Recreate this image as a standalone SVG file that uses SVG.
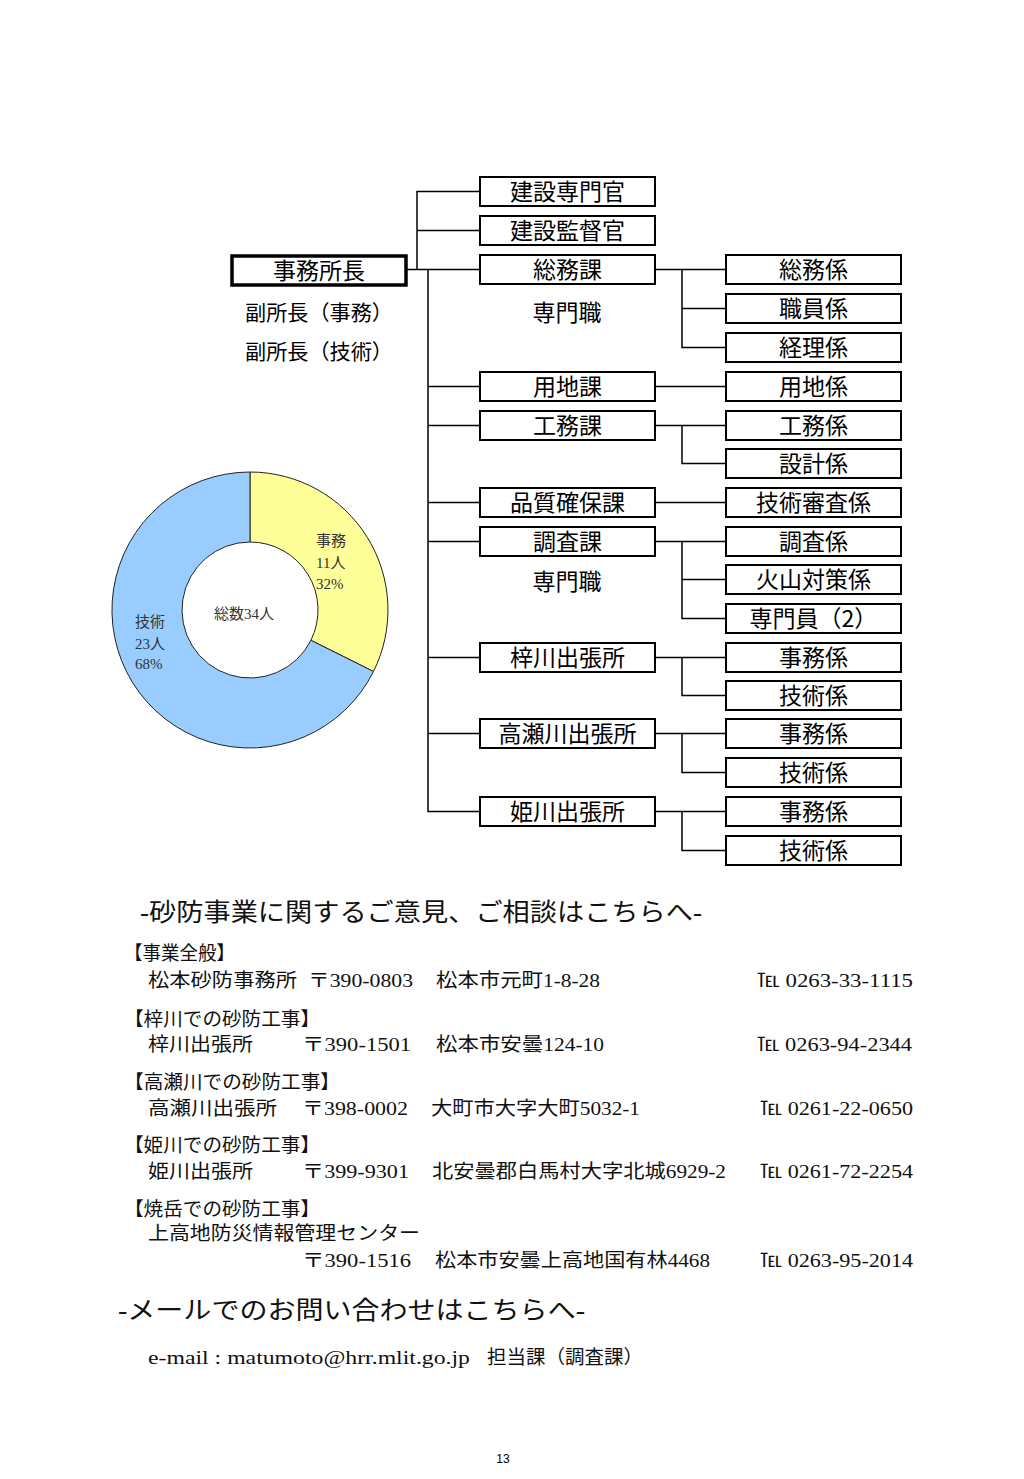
<svg xmlns="http://www.w3.org/2000/svg" width="1024" height="1479" viewBox="0 0 1024 1479">
<style>
.box{fill:#fff;stroke:#000;stroke-width:2}
.boss{fill:#fff;stroke:#000;stroke-width:3.5}
.lbl{font-family:"Noto Sans CJK JP","Noto Sans",sans-serif;font-size:23px;fill:#000;text-anchor:middle}
.sub{font-family:"Noto Sans CJK JP","Noto Sans",sans-serif;font-size:21px;fill:#000}
.con{fill:none;stroke:#000;stroke-width:1.5}
.pie{stroke:#222;stroke-width:1}
.pl{font-family:"Liberation Serif","Noto Sans CJK JP",serif;font-size:15px;fill:#333}
.tx{font-family:"Liberation Serif","Noto Sans CJK JP",serif;font-size:19px;fill:#111;dominant-baseline:central}
.hd{font-family:"Liberation Serif","Noto Sans CJK JP",serif;font-size:25px;fill:#111;dominant-baseline:central}
</style>
<rect width="1024" height="1479" fill="#fff"/>

<g id="connectors">
<path class="con" d="M406 269.5H480M417 269.5V191.5H480M417 230.5H480"/>
<path class="con" d="M428 269.5V811.5H480M428 386.5H480M428 425.5H480M428 502.5H480M428 541.5H480M428 657.5H480M428 733.5H480"/>
<path class="con" d="M655 269.5H726M682 269.5V347.5H726M682 308.5H726"/>
<path class="con" d="M655 386.5H726"/>
<path class="con" d="M655 425.5H726M682 425.5V463.5H726"/>
<path class="con" d="M655 502.5H726"/>
<path class="con" d="M655 541.5H726M682 541.5V618.5H726M682 579.5H726"/>
<path class="con" d="M655 657.5H726M682 657.5V695.5H726"/>
<path class="con" d="M655 733.5H726M682 733.5V772.5H726"/>
<path class="con" d="M655 811.5H726M682 811.5V850.5H726"/>
</g>

<g id="n-chief"><rect class="boss" x="232" y="256" width="174" height="29"/><text class="lbl" x="319" y="279">事務所長</text></g>
<g id="t-vice1"><text class="sub" x="245" y="320" textLength="148" lengthAdjust="spacingAndGlyphs">副所長（事務）</text></g>
<g id="t-vice2"><text class="sub" x="245" y="359" textLength="148" lengthAdjust="spacingAndGlyphs">副所長（技術）</text></g>
<g id="t-sen1"><text class="lbl" x="567" y="321">専門職</text></g>
<g id="t-sen2"><text class="lbl" x="567" y="590">専門職</text></g>

<g id="n-m0"><rect class="box" x="480" y="177" width="175" height="29"/><text class="lbl" x="567.5" y="200">建設専門官</text></g>
<g id="n-m1"><rect class="box" x="480" y="216" width="175" height="29"/><text class="lbl" x="567.5" y="239">建設監督官</text></g>
<g id="n-m2"><rect class="box" x="480" y="255" width="175" height="29"/><text class="lbl" x="567.5" y="278">総務課</text></g>
<g id="n-m5"><rect class="box" x="480" y="372" width="175" height="29"/><text class="lbl" x="567.5" y="395">用地課</text></g>
<g id="n-m6"><rect class="box" x="480" y="411" width="175" height="29"/><text class="lbl" x="567.5" y="434">工務課</text></g>
<g id="n-m8"><rect class="box" x="480" y="488" width="175" height="29"/><text class="lbl" x="567.5" y="511">品質確保課</text></g>
<g id="n-m9"><rect class="box" x="480" y="527" width="175" height="29"/><text class="lbl" x="567.5" y="550">調査課</text></g>
<g id="n-m12"><rect class="box" x="480" y="643" width="175" height="29"/><text class="lbl" x="567.5" y="666">梓川出張所</text></g>
<g id="n-m14"><rect class="box" x="480" y="719" width="175" height="29"/><text class="lbl" x="567.5" y="742">高瀬川出張所</text></g>
<g id="n-m16"><rect class="box" x="480" y="797" width="175" height="29"/><text class="lbl" x="567.5" y="820">姫川出張所</text></g>

<g id="n-r2"><rect class="box" x="726" y="255" width="175" height="29"/><text class="lbl" x="813.5" y="278">総務係</text></g>
<g id="n-r3"><rect class="box" x="726" y="294" width="175" height="29"/><text class="lbl" x="813.5" y="317">職員係</text></g>
<g id="n-r4"><rect class="box" x="726" y="333" width="175" height="29"/><text class="lbl" x="813.5" y="356">経理係</text></g>
<g id="n-r5"><rect class="box" x="726" y="372" width="175" height="29"/><text class="lbl" x="813.5" y="395">用地係</text></g>
<g id="n-r6"><rect class="box" x="726" y="411" width="175" height="29"/><text class="lbl" x="813.5" y="434">工務係</text></g>
<g id="n-r7"><rect class="box" x="726" y="449" width="175" height="29"/><text class="lbl" x="813.5" y="472">設計係</text></g>
<g id="n-r8"><rect class="box" x="726" y="488" width="175" height="29"/><text class="lbl" x="813.5" y="511">技術審査係</text></g>
<g id="n-r9"><rect class="box" x="726" y="527" width="175" height="29"/><text class="lbl" x="813.5" y="550">調査係</text></g>
<g id="n-r10"><rect class="box" x="726" y="565" width="175" height="29"/><text class="lbl" x="813.5" y="588">火山対策係</text></g>
<g id="n-r11"><rect class="box" x="726" y="604" width="175" height="29"/><text class="lbl" x="813.5" y="627">専門員（2）</text></g>
<g id="n-r12"><rect class="box" x="726" y="643" width="175" height="29"/><text class="lbl" x="813.5" y="666">事務係</text></g>
<g id="n-r13"><rect class="box" x="726" y="681" width="175" height="29"/><text class="lbl" x="813.5" y="704">技術係</text></g>
<g id="n-r14"><rect class="box" x="726" y="719" width="175" height="29"/><text class="lbl" x="813.5" y="742">事務係</text></g>
<g id="n-r15"><rect class="box" x="726" y="758" width="175" height="29"/><text class="lbl" x="813.5" y="781">技術係</text></g>
<g id="n-r16"><rect class="box" x="726" y="797" width="175" height="29"/><text class="lbl" x="813.5" y="820">事務係</text></g>
<g id="n-r17"><rect class="box" x="726" y="836" width="175" height="29"/><text class="lbl" x="813.5" y="859">技術係</text></g>

<g id="pie">
<path class="pie" fill="#FFFF99" d="M250 472A138 138 0 0 1 373.5 671.5L310.9 640.3A68 68 0 0 0 250 542Z"/>
<path class="pie" fill="#99CCFF" d="M373.5 671.5A138 138 0 1 1 250 472L250 542A68 68 0 1 0 310.9 640.3Z"/>
<text class="pl" x="316" y="546">事務</text>
<text class="pl" x="316" y="568">11人</text>
<text class="pl" x="316" y="589">32%</text>
<text class="pl" x="135" y="627">技術</text>
<text class="pl" x="135" y="649">23人</text>
<text class="pl" x="135" y="669">68%</text>
<text class="pl" x="214" y="619">総数34人</text>
</g>

<g id="contact">
<text class="hd" x="140" y="912" textLength="562" lengthAdjust="spacingAndGlyphs">-砂防事業に関するご意見、ご相談はこちらへ-</text>
<text class="tx" x="124" y="953" textLength="111" lengthAdjust="spacingAndGlyphs">【事業全般】</text>
<text class="tx" x="148" y="980" textLength="149" lengthAdjust="spacingAndGlyphs">松本砂防事務所</text>
<text class="tx" x="308" y="980" textLength="105" lengthAdjust="spacingAndGlyphs">〒390-0803</text>
<text class="tx" x="436" y="980" textLength="164" lengthAdjust="spacingAndGlyphs">松本市元町1-8-28</text>
<text class="tx" x="757" y="980" textLength="156" lengthAdjust="spacingAndGlyphs">℡ 0263-33-1115</text>

<text class="tx" x="124" y="1019" textLength="196" lengthAdjust="spacingAndGlyphs">【梓川での砂防工事】</text>
<text class="tx" x="148" y="1044" textLength="105" lengthAdjust="spacingAndGlyphs">梓川出張所</text>
<text class="tx" x="302" y="1044" textLength="109" lengthAdjust="spacingAndGlyphs">〒390-1501</text>
<text class="tx" x="436" y="1044" textLength="168" lengthAdjust="spacingAndGlyphs">松本市安曇124-10</text>
<text class="tx" x="757" y="1044" textLength="155" lengthAdjust="spacingAndGlyphs">℡ 0263-94-2344</text>

<text class="tx" x="124" y="1082" textLength="216" lengthAdjust="spacingAndGlyphs">【高瀬川での砂防工事】</text>
<text class="tx" x="148" y="1108" textLength="129" lengthAdjust="spacingAndGlyphs">高瀬川出張所</text>
<text class="tx" x="302" y="1108" textLength="106" lengthAdjust="spacingAndGlyphs">〒398-0002</text>
<text class="tx" x="431" y="1108" textLength="209" lengthAdjust="spacingAndGlyphs">大町市大字大町5032-1</text>
<text class="tx" x="760" y="1108" textLength="153" lengthAdjust="spacingAndGlyphs">℡ 0261-22-0650</text>

<text class="tx" x="124" y="1145" textLength="196" lengthAdjust="spacingAndGlyphs">【姫川での砂防工事】</text>
<text class="tx" x="148" y="1171" textLength="105" lengthAdjust="spacingAndGlyphs">姫川出張所</text>
<text class="tx" x="302" y="1171" textLength="107" lengthAdjust="spacingAndGlyphs">〒399-9301</text>
<text class="tx" x="432" y="1171" textLength="294" lengthAdjust="spacingAndGlyphs">北安曇郡白馬村大字北城6929-2</text>
<text class="tx" x="760" y="1171" textLength="153" lengthAdjust="spacingAndGlyphs">℡ 0261-72-2254</text>

<text class="tx" x="124" y="1209" textLength="196" lengthAdjust="spacingAndGlyphs">【焼岳での砂防工事】</text>
<text class="tx" x="148" y="1233" textLength="272" lengthAdjust="spacingAndGlyphs">上高地防災情報管理センター</text>
<text class="tx" x="302" y="1260" textLength="109" lengthAdjust="spacingAndGlyphs">〒390-1516</text>
<text class="tx" x="435" y="1260" textLength="275" lengthAdjust="spacingAndGlyphs">松本市安曇上高地国有林4468</text>
<text class="tx" x="760" y="1260" textLength="153" lengthAdjust="spacingAndGlyphs">℡ 0263-95-2014</text>

<text class="hd" x="118" y="1310" textLength="467" lengthAdjust="spacingAndGlyphs">-メールでのお問い合わせはこちらへ-</text>
<text class="tx" x="148" y="1357" textLength="322" lengthAdjust="spacingAndGlyphs">e-mail : matumoto@hrr.mlit.go.jp</text>
<text class="tx" x="487" y="1357" textLength="156" lengthAdjust="spacingAndGlyphs">担当課（調査課）</text>
</g>
<text x="503" y="1463" font-family="Liberation Sans, Arial, sans-serif" font-size="12" text-anchor="middle" fill="#000">13</text>
</svg>
